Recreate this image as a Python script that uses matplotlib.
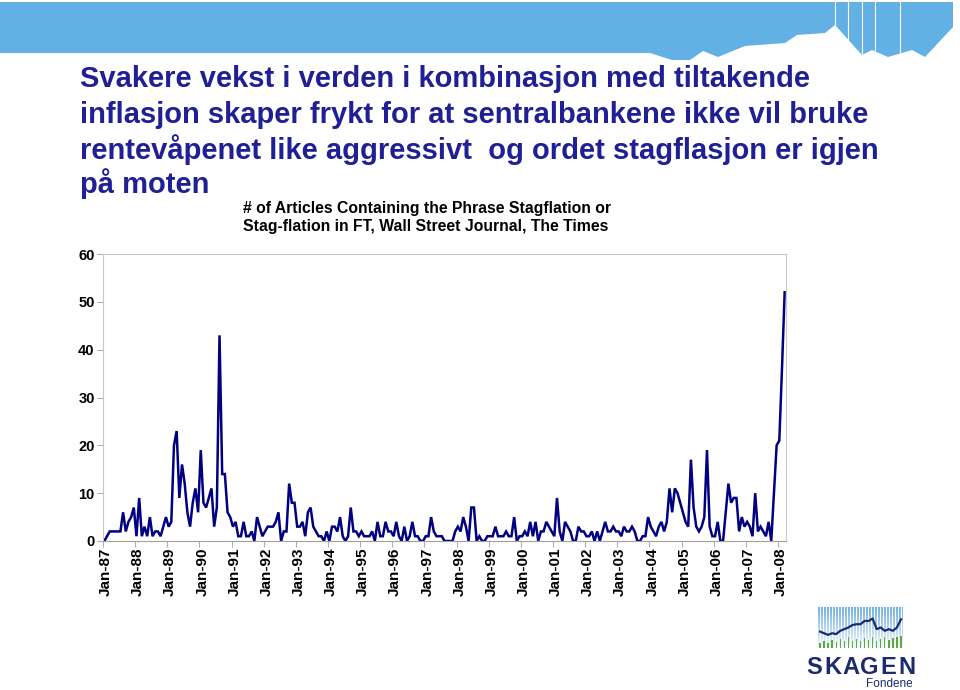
import matplotlib
matplotlib.use("Agg")
import numpy as np
import matplotlib.pyplot as plt
from matplotlib.patches import Polygon
from matplotlib.colors import to_rgb

plt.rcParams['font.family'] = ['Liberation Sans', 'DejaVu Sans']

# monthly article counts, Jan-87 .. Mar-08
y1987 = [0, 1, 2, 2, 2, 2, 2, 6, 2, 4, 5, 7]
y1988 = [1, 9, 1, 3, 1, 5, 1, 2, 2, 1, 3, 5]
y1989 = [3, 4, 20, 23, 9, 16, 12, 6, 3, 8, 11, 6]
y1990 = [19, 8, 7, 9, 11, 3, 7, 43, 14, 14, 6, 5]
y1991 = [3, 4, 1, 1, 4, 1, 1, 2, 0, 5, 3, 1]
y1992 = [2, 3, 3, 3, 4, 6, 0, 2, 2, 12, 8, 8]
y1993 = [3, 3, 4, 1, 6, 7, 3, 2, 1, 1, 0, 2]
y1994 = [0, 3, 3, 2, 5, 1, 0, 1, 7, 2, 2, 1]
y1995 = [2, 1, 1, 1, 2, 0, 4, 1, 1, 4, 2, 2]
y1996 = [1, 4, 1, 0, 3, 0, 1, 4, 1, 1, 0, 0]
y1997 = [1, 1, 5, 2, 1, 1, 1, 0, 0, 0, 0, 2]
y1998 = [3, 2, 5, 3, 0, 7, 7, 0, 1, 0, 0, 1]
y1999 = [1, 1, 3, 1, 1, 1, 2, 1, 1, 5, 0, 1]
y2000 = [1, 2, 1, 4, 1, 4, 0, 2, 2, 4, 3, 2]
y2001 = [1, 9, 2, 0, 4, 3, 2, 0, 0, 3, 2, 2]
y2002 = [1, 1, 2, 0, 2, 0, 2, 4, 2, 2, 3, 2]
y2003 = [2, 1, 3, 2, 2, 3, 2, 0, 0, 1, 1, 5]
y2004 = [3, 2, 1, 3, 4, 2, 4, 11, 6, 11, 10, 8]
y2005 = [6, 4, 3, 17, 7, 3, 2, 3, 5, 19, 3, 1]
y2006 = [1, 4, 0, 0, 6, 12, 8, 9, 9, 2, 5, 3]
y2007 = [4, 3, 1, 10, 2, 3, 2, 1, 4, 0, 10, 20]
y2008 = [21, 36, 52]

counts = (y1987 + y1988 + y1989 + y1990 + y1991 + y1992 + y1993 + y1994
          + y1995 + y1996 + y1997 + y1998 + y1999 + y2000 + y2001 + y2002
          + y2003 + y2004 + y2005 + y2006 + y2007 + y2008)

years = list(range(87, 100)) + list(range(0, 9))
tick_labels = ['Jan-%02d' % yy for yy in years]

title_lines = ["Svakere vekst i verden i kombinasjon med tiltakende",
               "inflasjon skaper frykt for at sentralbankene ikke vil bruke",
               "rentevåpenet like aggressivt  og ordet stagflasjon er igjen",
               "på moten"]
chart_title = ("# of Articles Containing the Phrase Stagflation or\n"
               "Stag-flation in FT, Wall Street Journal, The Times")

# small logo graphic
logo_line = [0.4, 0.36, 0.32, 0.36, 0.34, 0.42, 0.46, 0.5, 0.56, 0.58, 0.58,
             0.66, 0.66, 0.72, 0.46, 0.5, 0.42, 0.46, 0.42, 0.5, 0.7]
logo_bars = [0.12, 0.16, 0.13, 0.2, 0.15, 0.22, 0.17, 0.26, 0.18, 0.22, 0.16,
             0.25, 0.2, 0.27, 0.18, 0.22, 0.27, 0.2, 0.25, 0.27, 0.3]

W, H = 960, 690
fig = plt.figure(figsize=(W / 100, H / 100), dpi=100)


def fx(px):
    return px / W


def fy(py):
    return 1 - py / H


# ---- blue banner on top
banner = [(0, 2), (953, 2), (953, 27), (925, 57), (912, 50), (888, 57),
          (872, 50), (862, 55), (835, 25), (825, 33), (797, 35), (785, 43),
          (745, 46), (718, 57), (703, 51), (690, 60), (672, 60), (650, 53),
          (0, 53)]
fig.patches.append(Polygon([(fx(a), fy(b)) for a, b in banner], closed=True,
                           transform=fig.transFigure, facecolor='#63b0e4',
                           edgecolor='none', zorder=0))
for vx, vb in [(835, 25), (848, 40), (862, 55), (875, 52), (900, 52)]:
    fig.lines.append(plt.Line2D([fx(vx), fx(vx)], [fy(2), fy(vb)],
                                transform=fig.transFigure, color='white', lw=0.8))

# ---- slide title
title_col = '#1f1f96'
for i, line in enumerate(title_lines):
    fig.text(fx(80), fy(87 + 36 * i - (2 if i == 3 else 0)), line,
             fontsize=21, fontweight='bold', color=title_col, va='baseline')

fig.text(fx(243), fy(201), chart_title, fontsize=11.3, fontweight='bold',
         va='top', ha='left', linespacing=1.25)

# ---- chart
ax = fig.add_axes([fx(103), fy(541), fx(786) - fx(103), (541 - 254) / H])
x = np.arange(len(counts))
ax.plot(x, counts, color='#000080', lw=1.8, solid_joinstyle='miter')
ax.set_xlim(-0.5, len(counts) - 0.5)
ax.set_ylim(0, 60)
ax.set_yticks(range(0, 61, 10))
# tick marks between categories, labels a little to the right (Excel style)
ax.set_xticks([12 * i - 0.5 for i in range(len(tick_labels))])
ax.set_xticklabels([])
ax.set_xticks([12 * i + 0.6 for i in range(len(tick_labels))], minor=True)
ax.set_xticklabels(tick_labels, minor=True, rotation=90, fontweight='bold',
                   fontsize=11)
ax.tick_params(axis='x', which='minor', length=0, pad=5)
for lab in ax.get_yticklabels():
    lab.set_fontweight('bold')
ax.tick_params(axis='y', length=4, width=0.8, color='#b0b0b0', labelsize=10.5, pad=2)
ax.tick_params(axis='x', which='major', length=4, width=0.8, color='#b0b0b0')
for s in ax.spines.values():
    s.set_color('#c8c8c8')
    s.set_linewidth(0.8)
ax.spines['bottom'].set_color('#a0a0a0')

# ---- logo
lax = fig.add_axes([fx(818), fy(648), fx(903) - fx(818), (648 - 607) / H])
top_c = np.array(to_rgb('#6fb0e0'))
bot_c = np.array(to_rgb('#f4f9fd'))
rows, cols = 41, 85
t = np.linspace(0, 1, rows).reshape(-1, 1, 1)
img = (1 - t) * top_c + t * bot_c
img = np.repeat(img, cols, axis=1)
img[:, 2::3, :] = 1.0
lax.imshow(img, aspect='auto', interpolation='nearest',
           extent=(-0.5, len(logo_line) - 0.5, 0, 1))
lax.bar(np.arange(len(logo_bars)), logo_bars, width=0.35, color='#5aaa3c')
lax.plot(np.arange(len(logo_line)), logo_line, color='#1c2a6e', lw=1.6)
lax.set_xlim(-0.5, len(logo_line) - 0.5)
lax.set_ylim(0, 1)
lax.axis('off')
for i, ch in enumerate('SKAGEN'):
    fig.text(fx(814 + i * 18.5), fy(674), ch, fontsize=17, fontweight='bold',
             color='#1c2a6e', ha='center', va='baseline')
fig.text(fx(866), fy(687), 'Fondene', fontsize=8.5, color='#1c2a6e',
         ha='left', va='baseline')

fig.savefig('out.png', dpi=100)
